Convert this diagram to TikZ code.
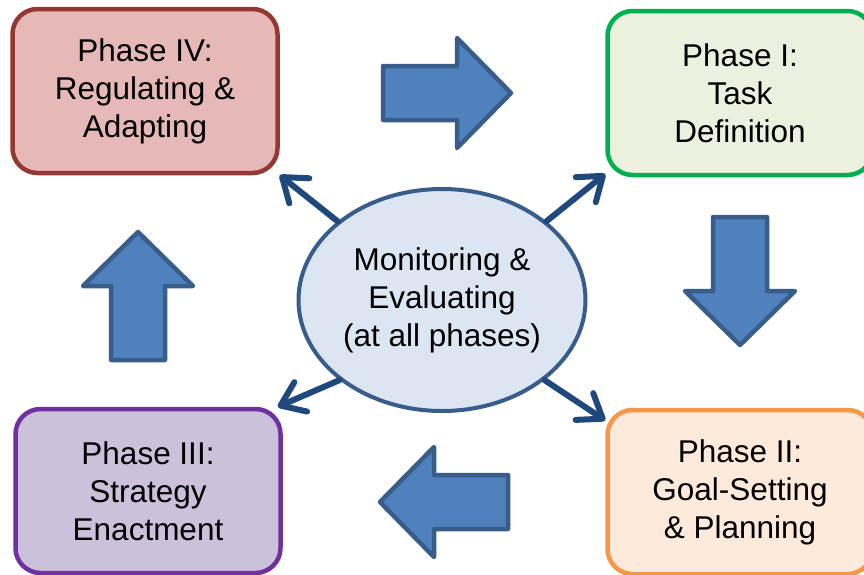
\documentclass[tikz,border=0pt]{standalone}
\usepackage{fontspec}
\setmainfont{Liberation Sans}
\usetikzlibrary{arrows.meta,shapes.geometric,calc}

\definecolor{regfill}{HTML}{E6B9B8}
\definecolor{regline}{HTML}{953735}
\definecolor{taskfill}{HTML}{EBF1DE}
\definecolor{taskline}{HTML}{00B050}
\definecolor{goalfill}{HTML}{FDEADA}
\definecolor{goalline}{HTML}{F79646}
\definecolor{stratfill}{HTML}{CCC1DA}
\definecolor{stratline}{HTML}{7030A0}
\definecolor{monfill}{HTML}{DCE6F2}
\definecolor{monline}{HTML}{385D8A}
\definecolor{arrfill}{HTML}{4F81BD}
\definecolor{arrline}{HTML}{385D8A}
\definecolor{linkblue}{HTML}{1F497D}

\begin{document}
\begin{tikzpicture}[x=1pt,y=-1pt,
  phase/.style={rounded corners=25pt,line width=4.5pt,minimum width=265pt,minimum height=164pt,
    inner sep=0pt,align=center,font=\fontsize{31.5}{38}\selectfont},
  link/.style={line width=6pt,draw=linkblue,line cap=round,
    -{Straight Barb[length=22pt,width=32pt,round]}},
  bigarrow/.pic={\draw[fill=arrfill,draw=arrline,line width=4.5pt,line join=round]
    (0,-27) -- (74,-27) -- (74,-55) -- (128,0) -- (74,55) -- (74,27) -- (0,27) -- cycle;}]
\useasboundingbox (0,0) rectangle (864,574);

% the four phases
\node[phase,fill=regfill,draw=regline] (p4) at (145,91) {Phase IV:\\Regulating \&\\Adapting};
\node[phase,fill=taskfill,draw=taskline] (p1) at (740,93) {Phase I:\\Task\\Definition};
\node[phase,fill=goalfill,draw=goalline] (p2) at (740,492) {Phase II:\\Goal-Setting\\\& Planning};
\node[phase,fill=stratfill,draw=stratline] (p3) at (148,491) {Phase III:\\Strategy\\Enactment};

% monitoring in the middle
\node[ellipse,fill=monfill,draw=monline,line width=4pt,minimum width=287pt,minimum height=222pt,
  inner sep=0pt,align=center,font=\fontsize{31.5}{38}\selectfont] (mon) at (442,300)
  {Monitoring \&\\Evaluating\\(at all phases)};

% cycle arrows
\pic at (383,93) {bigarrow};
\pic[rotate=-90] at (740,217) {bigarrow};
\pic[rotate=180] at (508,502) {bigarrow};
\pic[rotate=90] at (138,360) {bigarrow};

% links to every phase
\draw[link] (mon.143) -- (p4.-32);
\draw[link] (mon.37) -- (p1.211);
\draw[link] (mon.218) -- (p3.33);
\draw[link] (mon.322) -- (p2.152);
\end{tikzpicture}
\end{document}
